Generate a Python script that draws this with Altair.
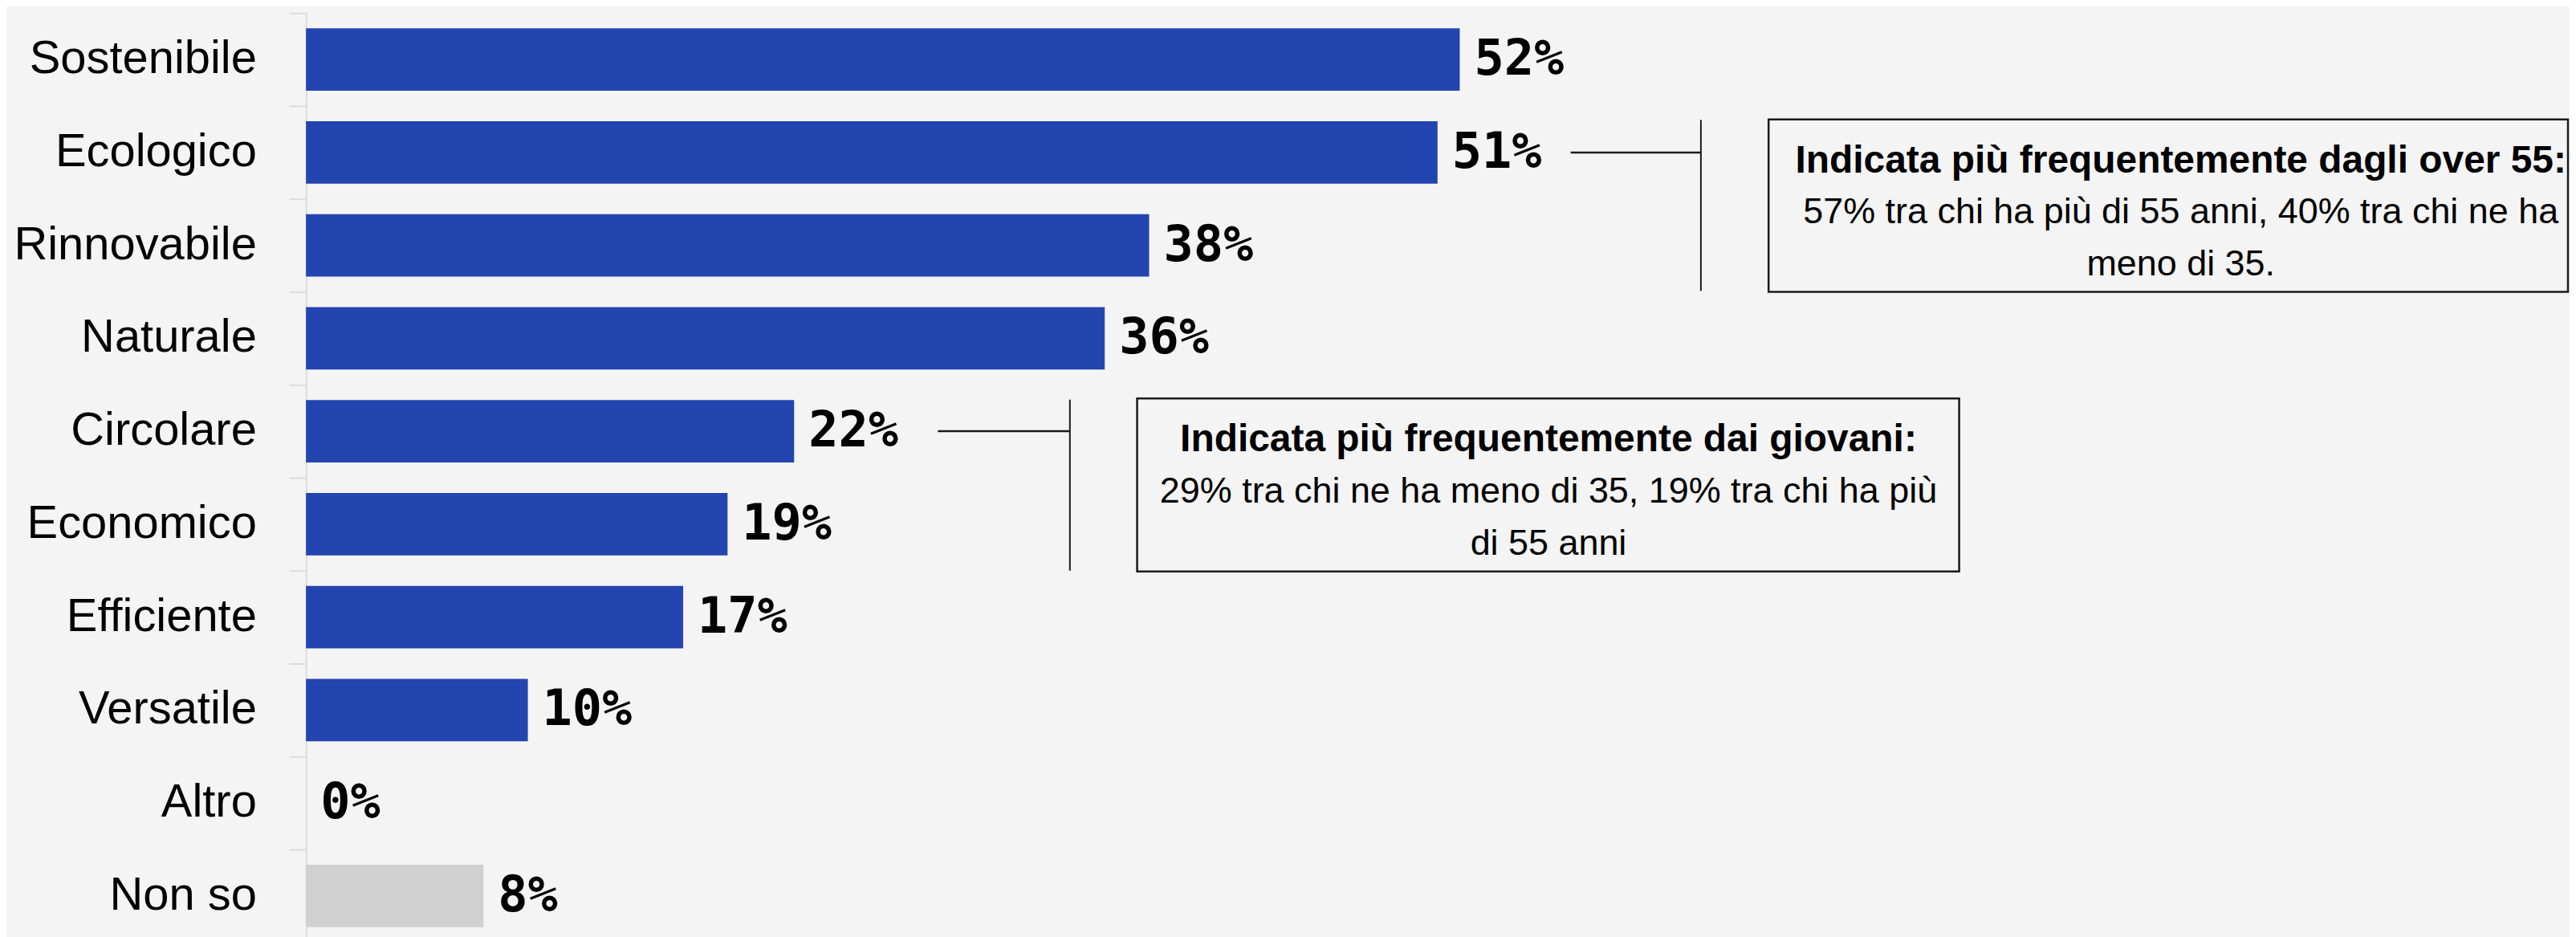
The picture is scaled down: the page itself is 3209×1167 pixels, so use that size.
import altair as alt
import pandas as pd

# ---- chart data ----
categories = ["Sostenibile", "Ecologico", "Rinnovabile", "Naturale", "Circolare",
              "Economico", "Efficiente", "Versatile", "Altro", "Non so"]
values = [52, 51, 38, 36, 22, 19, 17, 10, 0, 8]
groups = ["risposta"] * 9 + ["non so"]
group_names = ["risposta", "non so"]
group_colors = ["#2245b0", "#d1d0d0"]

# ---- annotation data (x in % units, y in row units: 0 = top of first row) ----
note_titles = ["Indicata più frequentemente dagli over 55:",
               "Indicata più frequentemente dai giovani:"]
note_line2 = ["57% tra chi ha più di 55 anni, 40% tra chi ne ha",
              "29% tra chi ne ha meno di 35, 19% tra chi ha più"]
note_line3 = ["meno di 35.", "di 55 anni"]
note_center_x = [84.5, 56.0]
note_title_y = [1.713, 4.716]
note_line2_y = [2.265, 5.267]
note_line3_y = [2.825, 5.828]
box_x = [65.92, 37.46]
box_x2 = [101.95, 74.51]
box_y = [1.144, 4.147]
box_y2 = [3.0, 6.009]
bracket_x = [62.87, 34.43]
bracket_y = [1.15, 4.16]
bracket_y2 = [2.99, 6.0]
leader_x = [57.0, 28.48]
leader_row = [1.5, 4.5]

df = pd.DataFrame({
    "cat": categories,
    "val": values,
    "grp": groups,
    "lab": [f"{v}%" for v in values],
})

boxes = pd.DataFrame({"x": box_x, "x2": box_x2, "y": box_y, "y2": box_y2})
brackets = pd.DataFrame({"x": bracket_x, "y": bracket_y, "y2": bracket_y2})
leaders = pd.DataFrame({"x": leader_x, "x2": bracket_x, "y": leader_row})
titles = pd.DataFrame({"x": note_center_x, "y": note_title_y, "t": note_titles})
bodies = pd.DataFrame({
    "x": note_center_x + note_center_x,
    "y": note_line2_y + note_line3_y,
    "t": note_line2 + note_line3,
})

W = 2770
H = 1160

xscale = alt.Scale(domain=[0, 100], nice=False, zero=True)
yband = alt.Scale(paddingInner=0, paddingOuter=0)
yrow = alt.Scale(domain=[0, 10], reverse=True, nice=False, zero=False)

y_axis = alt.Axis(
    title=None, domainColor="#dcdcdc", domainWidth=2, tickColor="#dcdcdc",
    tickWidth=2, tickSize=21, bandPosition=0, labelFont="Liberation Sans",
    labelFontSize=58, labelColor="#000000", labelPadding=41, labelLimit=500,
    minExtent=369, maxExtent=369,
)

bars = alt.Chart(df).mark_bar(height={"band": 0.67}).encode(
    x=alt.X("val:Q", scale=xscale, axis=None),
    y=alt.Y("cat:N", sort=categories, scale=yband, axis=y_axis),
    color=alt.Color("grp:N", scale=alt.Scale(domain=group_names, range=group_colors), legend=None),
)

labels = alt.Chart(df).mark_text(
    align="left", baseline="middle", dx=18, font="DejaVu Sans Mono",
    fontWeight="bold", fontSize=62, color="#000000",
).encode(
    x=alt.X("val:Q", scale=xscale, axis=None),
    y=alt.Y("cat:N", sort=categories, scale=yband, axis=y_axis),
    text="lab:N",
)

main = alt.layer(bars, labels)

box_layer = alt.Chart(boxes).mark_rect(
    fill="transparent", stroke="#1a1a1a", strokeWidth=2.5,
).encode(
    x=alt.X("x:Q", scale=xscale, axis=None), x2="x2:Q",
    y=alt.Y("y:Q", scale=yrow, axis=None), y2="y2:Q",
)

bracket_layer = alt.Chart(brackets).mark_rule(color="#1a1a1a", strokeWidth=2).encode(
    x=alt.X("x:Q", scale=xscale, axis=None),
    y=alt.Y("y:Q", scale=yrow, axis=None), y2="y2:Q",
)

leader_layer = alt.Chart(leaders).mark_rule(color="#1a1a1a", strokeWidth=2.5).encode(
    x=alt.X("x:Q", scale=xscale, axis=None), x2="x2:Q",
    y=alt.Y("y:Q", scale=yrow, axis=None),
)

title_layer = alt.Chart(titles).mark_text(
    align="center", baseline="alphabetic", font="Liberation Sans",
    fontWeight="bold", fontSize=48, color="#000000",
).encode(
    x=alt.X("x:Q", scale=xscale, axis=None),
    y=alt.Y("y:Q", scale=yrow, axis=None),
    text="t:N",
)

body_layer = alt.Chart(bodies).mark_text(
    align="center", baseline="alphabetic", font="Liberation Sans",
    fontSize=45, color="#000000",
).encode(
    x=alt.X("x:Q", scale=xscale, axis=None),
    y=alt.Y("y:Q", scale=yrow, axis=None),
    text="t:N",
)

notes = alt.layer(box_layer, bracket_layer, leader_layer, title_layer, body_layer)

chart = alt.layer(main, notes).resolve_scale(y="independent").properties(
    width=W, height=H,
    background="#f4f4f4",
    padding={"left": 5, "top": 6, "right": 0, "bottom": 0},
).configure_view(strokeWidth=0)

chart.save("out.html", embed_options={"renderer": "svg", "actions": False})
